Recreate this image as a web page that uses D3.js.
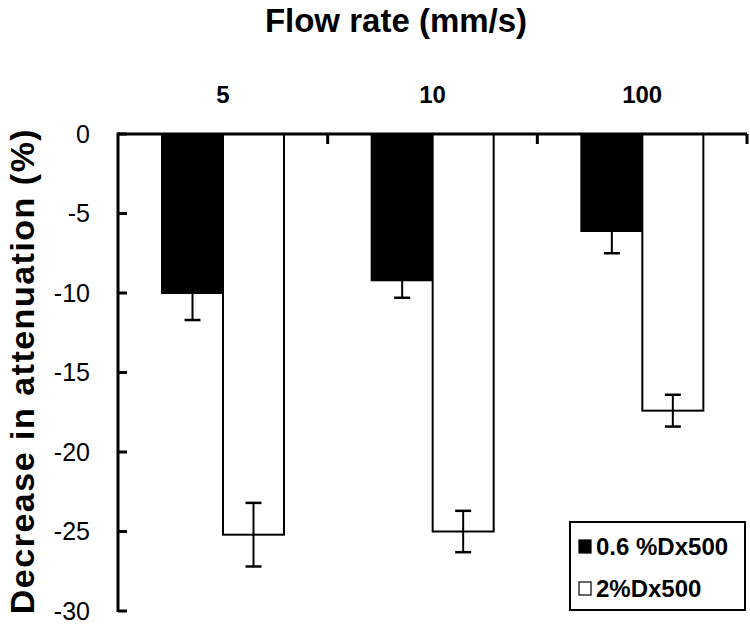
<!DOCTYPE html>
<html><head><meta charset="utf-8">
<script src="https://cdn.jsdelivr.net/npm/d3@7"></script>
<style>body{margin:0;background:#fff}svg{display:block;font-family:"Liberation Sans",Arial,sans-serif}</style>
</head><body><svg id="c" width="750" height="624"></svg>
<script>
const categories = ["5", "10", "100"];
const seriesNames = ["0.6 %Dx500", "2%Dx500"];
const blackValues = [-10.0, -9.2, -6.1];
const blackErrors = [1.7, 1.1, 1.4];
const whiteValues = [-25.2, -25.0, -17.4];
const whiteErrors = [2.0, 1.3, 1.0];
const yTicks = [0, -5, -10, -15, -20, -25, -30];

const svg = d3.select("#c");
const L = 118, R = 747, T = 134, B = 611;
const x0 = d3.scaleBand().domain(categories).range([L, R]).padding(0);
const x1 = d3.scaleBand().domain(seriesNames).range([44, 166]).padding(0);
const y = d3.scaleLinear().domain([0, -30]).range([T, B]);

const series = [
  {name: seriesNames[0], values: blackValues, errors: blackErrors, fill: "#000"},
  {name: seriesNames[1], values: whiteValues, errors: whiteErrors, fill: "#fff"}
];

// bars
series.forEach(s => {
  const g = svg.append("g");
  categories.forEach((c, i) => {
    const bx = x0(c) + x1(s.name);
    g.append("rect").attr("x", bx).attr("y", y(0))
      .attr("width", x1.bandwidth()).attr("height", y(s.values[i]) - y(0))
      .attr("fill", s.fill).attr("stroke", "#000").attr("stroke-width", 2);
  });
});
// error bars
series.forEach(s => {
  categories.forEach((c, i) => {
    const cx = x0(c) + x1(s.name) + x1.bandwidth() / 2;
    const v = s.values[i], e = s.errors[i];
    svg.append("line").attr("x1", cx).attr("x2", cx).attr("y1", y(v + e)).attr("y2", y(v - e))
      .attr("stroke", "#000").attr("stroke-width", 2);
    [v + e, v - e].forEach(t => {
      svg.append("line").attr("x1", cx - 8).attr("x2", cx + 8).attr("y1", y(t)).attr("y2", y(t))
        .attr("stroke", "#000").attr("stroke-width", 2.5);
    });
  });
});

// y axis
const yAxis = d3.axisLeft(y).tickValues(yTicks).tickSize(0).tickPadding(28).tickFormat(d => String(d));
const ga = svg.append("g").attr("transform", `translate(${L},0)`).call(yAxis);
ga.select(".domain").remove();
ga.selectAll("text").attr("font-size", 25).attr("font-family", "'Liberation Sans Narrow', 'Liberation Sans', Arial, sans-serif").attr("fill", "#000");
svg.append("line").attr("x1", L).attr("x2", L).attr("y1", T - 1.5).attr("y2", B + 1).attr("stroke", "#000").attr("stroke-width", 3);
yTicks.forEach(t => {
  svg.append("line").attr("x1", L).attr("x2", L + 9).attr("y1", y(t)).attr("y2", y(t)).attr("stroke", "#000").attr("stroke-width", 3);
});

// top axis
svg.append("line").attr("x1", L).attr("x2", R).attr("y1", T).attr("y2", T).attr("stroke", "#000").attr("stroke-width", 3);
categories.forEach(c => {
  const tx = x0(c) + x0.bandwidth();
  svg.append("line").attr("x1", tx).attr("x2", tx).attr("y1", T).attr("y2", T + 10).attr("stroke", "#000").attr("stroke-width", 3);
});
const xAxis = d3.axisTop(x0).tickSize(0).tickPadding(31);
const gx = svg.append("g").attr("transform", `translate(0,${T})`).call(xAxis);
gx.select(".domain").remove();
gx.selectAll("text").attr("font-size", 24).attr("font-weight", "bold").attr("font-family", "Liberation Sans, Arial, sans-serif").attr("fill", "#000");

// titles
svg.append("text").attr("x", 396).attr("y", 32).attr("text-anchor", "middle")
  .attr("font-size", 33).attr("font-weight", "bold").text("Flow rate (mm/s)");
svg.append("text").attr("transform", "translate(34,371) rotate(-90)").attr("text-anchor", "middle")
  .attr("font-size", 34).attr("font-weight", "bold").attr("letter-spacing", 1.5).text("Decrease in attenuation (%)");

// legend
const lg = svg.append("g");
lg.append("rect").attr("x", 570).attr("y", 522).attr("width", 175).attr("height", 88)
  .attr("fill", "#fff").attr("stroke", "#000").attr("stroke-width", 2);
series.forEach((s, i) => {
  const yy = 546 + i * 42;
  lg.append("rect").attr("x", 579).attr("y", yy - 6).attr("width", 12).attr("height", 13)
    .attr("fill", s.fill).attr("stroke", "#000").attr("stroke-width", 1.2);
  lg.append("text").attr("x", 596).attr("y", yy + 9).attr("font-size", 24).attr("font-weight", "bold").text(s.name);
});
</script></body></html>
